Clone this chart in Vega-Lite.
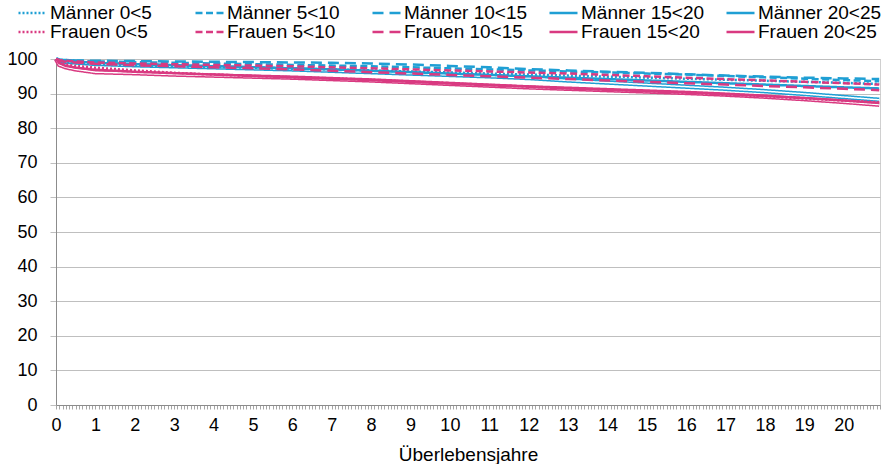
{
  "$schema": "https://vega.github.io/schema/vega-lite/v6.json",
  "width": 824,
  "height": 346,
  "autosize": {"type": "none"},
  "padding": {"left": 56, "top": 59, "right": 12, "bottom": 59},
  "background": "white",
  "config": {
    "font": "Liberation Sans",
    "view": {"stroke": "#d0d0d0", "strokeWidth": 1},
    "legend": {
      "title": null,
      "orient": "none",
      "legendX": -39,
      "legendY": -55,
      "columns": 5,
      "direction": "horizontal",
      "gridAlign": "all",
      "columnPadding": 20,
      "rowPadding": 0,
      "clipHeight": 18,
      "padding": 0,
      "symbolType": "stroke",
      "symbolSize": 784,
      "symbolStrokeWidth": 2.5,
      "symbolOffset": 0,
      "labelOffset": 2,
      "labelFontSize": 19,
      "labelColor": "#000000",
      "labelLimit": 250
    }
  },
  "data": {
    "values": [
      {"x": 0, "Männer 0<5": 100, "Männer 5<10": 100, "Männer 10<15": 100, "Männer 15<20": 100, "Männer 20<25": 100, "Frauen 0<5": 100, "Frauen 5<10": 100, "Frauen 10<15": 100, "Frauen 15<20": 100, "Frauen 20<25": 100},
      {"x": 0.083, "Männer 0<5": 99.3, "Männer 5<10": 99.8, "Männer 10<15": 99.8, "Männer 15<20": 99.6, "Männer 20<25": 99.5, "Frauen 0<5": 99.0, "Frauen 5<10": 99.7, "Frauen 10<15": 99.5, "Frauen 15<20": 98.8, "Frauen 20<25": 98.3},
      {"x": 0.25, "Männer 0<5": 99.0, "Männer 5<10": 99.7, "Männer 10<15": 99.7, "Männer 15<20": 99.4, "Männer 20<25": 99.2, "Frauen 0<5": 98.4, "Frauen 5<10": 99.5, "Frauen 10<15": 99.2, "Frauen 15<20": 98.0, "Frauen 20<25": 97.6},
      {"x": 0.5, "Männer 0<5": 98.8, "Männer 5<10": 99.5, "Männer 10<15": 99.6, "Männer 15<20": 99.2, "Männer 20<25": 99.0, "Frauen 0<5": 98.0, "Frauen 5<10": 99.3, "Frauen 10<15": 99.0, "Frauen 15<20": 97.5, "Frauen 20<25": 97.0},
      {"x": 1, "Männer 0<5": 98.5, "Männer 5<10": 99.3, "Männer 10<15": 99.5, "Männer 15<20": 98.9, "Männer 20<25": 98.6, "Frauen 0<5": 97.5, "Frauen 5<10": 99.0, "Frauen 10<15": 98.6, "Frauen 15<20": 96.9, "Frauen 20<25": 96.2},
      {"x": 2, "Männer 0<5": 98.2, "Männer 5<10": 99.1, "Männer 10<15": 99.4, "Männer 15<20": 98.5, "Männer 20<25": 98.2, "Frauen 0<5": 96.7, "Frauen 5<10": 98.7, "Frauen 10<15": 98.2, "Frauen 15<20": 96.3, "Frauen 20<25": 95.9},
      {"x": 3, "Männer 0<5": 97.9, "Männer 5<10": 98.9, "Männer 10<15": 99.3, "Männer 15<20": 98.2, "Männer 20<25": 97.9, "Frauen 0<5": 96.0, "Frauen 5<10": 98.5, "Frauen 10<15": 97.9, "Frauen 15<20": 95.9, "Frauen 20<25": 95.5},
      {"x": 4, "Männer 0<5": 97.7, "Männer 5<10": 98.7, "Männer 10<15": 99.2, "Männer 15<20": 97.9, "Männer 20<25": 97.6, "Frauen 0<5": 95.5, "Frauen 5<10": 98.3, "Frauen 10<15": 97.6, "Frauen 15<20": 95.5, "Frauen 20<25": 95.2},
      {"x": 5, "Männer 0<5": 97.5, "Männer 5<10": 98.5, "Männer 10<15": 99.1, "Männer 15<20": 97.6, "Männer 20<25": 97.3, "Frauen 0<5": 95.1, "Frauen 5<10": 98.1, "Frauen 10<15": 97.3, "Frauen 15<20": 95.1, "Frauen 20<25": 94.9},
      {"x": 6, "Männer 0<5": 97.2, "Männer 5<10": 98.3, "Männer 10<15": 99.0, "Männer 15<20": 97.3, "Männer 20<25": 97.0, "Frauen 0<5": 94.7, "Frauen 5<10": 97.9, "Frauen 10<15": 97.0, "Frauen 15<20": 94.7, "Frauen 20<25": 94.6},
      {"x": 7, "Männer 0<5": 97.0, "Männer 5<10": 98.1, "Männer 10<15": 98.9, "Männer 15<20": 97.0, "Männer 20<25": 96.6, "Frauen 0<5": 94.4, "Frauen 5<10": 97.6, "Frauen 10<15": 96.6, "Frauen 15<20": 94.3, "Frauen 20<25": 94.2},
      {"x": 8, "Männer 0<5": 96.7, "Männer 5<10": 97.9, "Männer 10<15": 98.7, "Männer 15<20": 96.6, "Männer 20<25": 96.2, "Frauen 0<5": 94.0, "Frauen 5<10": 97.3, "Frauen 10<15": 96.2, "Frauen 15<20": 93.9, "Frauen 20<25": 93.8},
      {"x": 9, "Männer 0<5": 96.4, "Männer 5<10": 97.6, "Männer 10<15": 98.4, "Männer 15<20": 96.2, "Männer 20<25": 95.8, "Frauen 0<5": 93.5, "Frauen 5<10": 97.0, "Frauen 10<15": 95.8, "Frauen 15<20": 93.4, "Frauen 20<25": 93.3},
      {"x": 10, "Männer 0<5": 96.1, "Männer 5<10": 97.3, "Männer 10<15": 98.0, "Männer 15<20": 95.8, "Männer 20<25": 95.4, "Frauen 0<5": 93.0, "Frauen 5<10": 96.7, "Frauen 10<15": 95.4, "Frauen 15<20": 92.9, "Frauen 20<25": 92.8},
      {"x": 11, "Männer 0<5": 95.8, "Männer 5<10": 97.0, "Männer 10<15": 97.6, "Männer 15<20": 95.4, "Männer 20<25": 95.0, "Frauen 0<5": 92.5, "Frauen 5<10": 96.4, "Frauen 10<15": 95.0, "Frauen 15<20": 92.4, "Frauen 20<25": 92.3},
      {"x": 12, "Männer 0<5": 95.5, "Männer 5<10": 96.7, "Männer 10<15": 97.1, "Männer 15<20": 95.0, "Männer 20<25": 94.5, "Frauen 0<5": 92.0, "Frauen 5<10": 96.1, "Frauen 10<15": 94.6, "Frauen 15<20": 92.0, "Frauen 20<25": 91.8},
      {"x": 13, "Männer 0<5": 95.2, "Männer 5<10": 96.4, "Männer 10<15": 96.7, "Männer 15<20": 94.6, "Männer 20<25": 93.8, "Frauen 0<5": 91.5, "Frauen 5<10": 95.8, "Frauen 10<15": 94.2, "Frauen 15<20": 91.5, "Frauen 20<25": 91.4},
      {"x": 14, "Männer 0<5": 94.9, "Männer 5<10": 96.1, "Männer 10<15": 96.3, "Männer 15<20": 94.2, "Männer 20<25": 93.2, "Frauen 0<5": 91.1, "Frauen 5<10": 95.4, "Frauen 10<15": 93.8, "Frauen 15<20": 91.1, "Frauen 20<25": 91.0},
      {"x": 15, "Männer 0<5": 94.6, "Männer 5<10": 95.8, "Männer 10<15": 96.0, "Männer 15<20": 93.8, "Männer 20<25": 92.6, "Frauen 0<5": 90.7, "Frauen 5<10": 95.0, "Frauen 10<15": 93.4, "Frauen 15<20": 90.7, "Frauen 20<25": 90.6},
      {"x": 16, "Männer 0<5": 94.3, "Männer 5<10": 95.5, "Männer 10<15": 95.6, "Männer 15<20": 93.4, "Männer 20<25": 92.0, "Frauen 0<5": 90.2, "Frauen 5<10": 94.6, "Frauen 10<15": 93.0, "Frauen 15<20": 90.3, "Frauen 20<25": 90.2},
      {"x": 17, "Männer 0<5": 94.0, "Männer 5<10": 95.1, "Männer 10<15": 95.2, "Männer 15<20": 93.0, "Männer 20<25": 91.4, "Frauen 0<5": 89.7, "Frauen 5<10": 94.2, "Frauen 10<15": 92.6, "Frauen 15<20": 89.8, "Frauen 20<25": 89.7},
      {"x": 18, "Männer 0<5": 93.7, "Männer 5<10": 94.7, "Männer 10<15": 94.9, "Männer 15<20": 92.6, "Männer 20<25": 90.7, "Frauen 0<5": 89.2, "Frauen 5<10": 93.8, "Frauen 10<15": 92.2, "Frauen 15<20": 89.3, "Frauen 20<25": 89.1},
      {"x": 19, "Männer 0<5": 93.4, "Männer 5<10": 94.3, "Männer 10<15": 94.6, "Männer 15<20": 92.2, "Männer 20<25": 89.9, "Frauen 0<5": 88.6, "Frauen 5<10": 93.4, "Frauen 10<15": 91.8, "Frauen 15<20": 88.7, "Frauen 20<25": 88.4},
      {"x": 20, "Männer 0<5": 93.1, "Männer 5<10": 93.9, "Männer 10<15": 94.4, "Männer 15<20": 91.8, "Männer 20<25": 89.0, "Frauen 0<5": 88.0, "Frauen 5<10": 93.0, "Frauen 10<15": 91.4, "Frauen 15<20": 88.0, "Frauen 20<25": 87.6},
      {"x": 20.9, "Männer 0<5": 92.8, "Männer 5<10": 93.6, "Männer 10<15": 94.2, "Männer 15<20": 91.5, "Männer 20<25": 88.2, "Frauen 0<5": 87.5, "Frauen 5<10": 92.6, "Frauen 10<15": 91.0, "Frauen 15<20": 87.3, "Frauen 20<25": 86.8}
    ]
  },
  "transform": [
    {"fold": ["Männer 0<5", "Männer 5<10", "Männer 10<15", "Männer 15<20", "Männer 20<25", "Frauen 0<5", "Frauen 5<10", "Frauen 10<15", "Frauen 15<20", "Frauen 20<25"], "as": ["serie", "wert"]}
  ],
  "encoding": {
    "x": {
      "field": "x",
      "type": "quantitative",
      "scale": {"domain": [0, 20.92], "nice": false, "zero": false},
      "axis": {
        "title": "Überlebensjahre",
        "titleFontSize": 19,
        "titleFontWeight": "normal",
        "titleColor": "#000000",
        "titlePadding": 11,
        "labelFontSize": 18,
        "labelColor": "#000000",
        "labelPadding": 7,
        "labelOverlap": false,
        "labelFlush": false,
        "labelBound": false,
        "labelExpr": "datum.value % 1 === 0 ? datum.value : ''",
        "grid": false,
        "tickSize": 4,
        "tickColor": "#a6a6a6",
        "domainColor": "#8c8c8c",
        "values": [0,0.083,0.167,0.25,0.333,0.417,0.5,0.583,0.667,0.75,0.833,0.917,
          1,1.083,1.167,1.25,1.333,1.417,1.5,1.583,1.667,1.75,1.833,1.917,
          2,2.083,2.167,2.25,2.333,2.417,2.5,2.583,2.667,2.75,2.833,2.917,
          3,3.083,3.167,3.25,3.333,3.417,3.5,3.583,3.667,3.75,3.833,3.917,
          4,4.083,4.167,4.25,4.333,4.417,4.5,4.583,4.667,4.75,4.833,4.917,
          5,5.083,5.167,5.25,5.333,5.417,5.5,5.583,5.667,5.75,5.833,5.917,
          6,6.083,6.167,6.25,6.333,6.417,6.5,6.583,6.667,6.75,6.833,6.917,
          7,7.083,7.167,7.25,7.333,7.417,7.5,7.583,7.667,7.75,7.833,7.917,
          8,8.083,8.167,8.25,8.333,8.417,8.5,8.583,8.667,8.75,8.833,8.917,
          9,9.083,9.167,9.25,9.333,9.417,9.5,9.583,9.667,9.75,9.833,9.917,
          10,10.083,10.167,10.25,10.333,10.417,10.5,10.583,10.667,10.75,10.833,10.917,
          11,11.083,11.167,11.25,11.333,11.417,11.5,11.583,11.667,11.75,11.833,11.917,
          12,12.083,12.167,12.25,12.333,12.417,12.5,12.583,12.667,12.75,12.833,12.917,
          13,13.083,13.167,13.25,13.333,13.417,13.5,13.583,13.667,13.75,13.833,13.917,
          14,14.083,14.167,14.25,14.333,14.417,14.5,14.583,14.667,14.75,14.833,14.917,
          15,15.083,15.167,15.25,15.333,15.417,15.5,15.583,15.667,15.75,15.833,15.917,
          16,16.083,16.167,16.25,16.333,16.417,16.5,16.583,16.667,16.75,16.833,16.917,
          17,17.083,17.167,17.25,17.333,17.417,17.5,17.583,17.667,17.75,17.833,17.917,
          18,18.083,18.167,18.25,18.333,18.417,18.5,18.583,18.667,18.75,18.833,18.917,
          19,19.083,19.167,19.25,19.333,19.417,19.5,19.583,19.667,19.75,19.833,19.917,
          20,20.083,20.167,20.25,20.333,20.417,20.5,20.583,20.667,20.75,20.833,20.917]
      }
    },
    "y": {
      "field": "wert",
      "type": "quantitative",
      "scale": {"domain": [0, 100], "nice": false},
      "axis": {
        "title": null,
        "values": [0,10,20,30,40,50,60,70,80,90,100],
        "labelFontSize": 18,
        "labelColor": "#000000",
        "labelPadding": 13,
        "tickSize": 6,
        "tickColor": "#bfbfbf",
        "gridColor": "#bfbfbf",
        "gridWidth": 1,
        "domainColor": "#8c8c8c"
      }
    },
    "color": {
      "field": "serie",
      "type": "nominal",
      "scale": {
        "domain": ["Männer 0<5", "Männer 5<10", "Männer 10<15", "Männer 15<20", "Männer 20<25", "Frauen 0<5", "Frauen 5<10", "Frauen 10<15", "Frauen 15<20", "Frauen 20<25"],
        "range": ["#1f9fd4", "#1f9fd4", "#1f9fd4", "#1f9fd4", "#1f9fd4", "#d93a81", "#d93a81", "#d93a81", "#d93a81", "#d93a81"]
      }
    },
    "strokeDash": {
      "field": "serie",
      "type": "nominal",
      "scale": {
        "domain": ["Männer 0<5", "Männer 5<10", "Männer 10<15", "Männer 15<20", "Männer 20<25", "Frauen 0<5", "Frauen 5<10", "Frauen 10<15", "Frauen 15<20", "Frauen 20<25"],
        "range": [[2, 2], [7, 3.5], [11, 6], [1, 0], [1, 0], [2, 2], [7, 3.5], [11, 6], [1, 0], [1, 0]]
      }
    }
  },
  "layer": [
    {
      "transform": [{"filter": "indexof(['Männer 20<25','Frauen 20<25'], datum.serie) >= 0"}],
      "mark": {"type": "line", "strokeWidth": 4.5}
    },
    {
      "transform": [{"filter": "indexof(['Männer 20<25','Frauen 20<25'], datum.serie) >= 0"}],
      "mark": {"type": "line", "strokeWidth": 1.5, "color": "white"},
      "encoding": {"color": {"value": "white"}, "strokeDash": {"value": [1, 0]}, "detail": {"field": "serie", "type": "nominal"}}
    },
    {
      "transform": [{"filter": "indexof(['Männer 20<25','Frauen 20<25'], datum.serie) < 0"}],
      "mark": {"type": "line", "strokeWidth": 2.5}
    }
  ]
}
